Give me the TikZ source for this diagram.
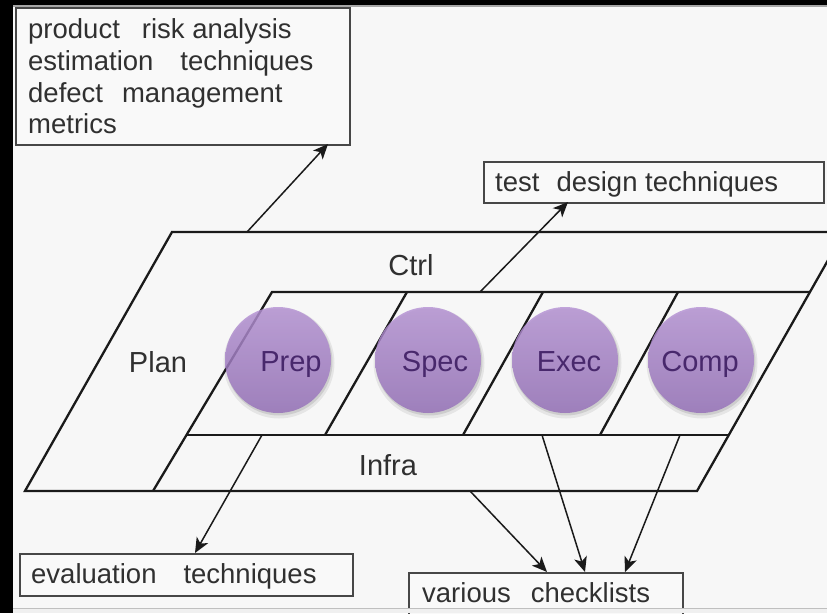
\documentclass[tikz,border=0pt]{standalone}
\usepackage{fontspec}
\setmainfont{Liberation Sans}
\usetikzlibrary{arrows.meta}
\definecolor{bgc}{HTML}{F7F7F7}
\definecolor{boxfill}{HTML}{F9F9F9}
\definecolor{boxline}{HTML}{474747}
\definecolor{lnc}{HTML}{1A1A1A}
\definecolor{txt}{HTML}{303030}
\definecolor{ctop}{HTML}{B794D6}
\definecolor{cbot}{HTML}{946FB8}
\definecolor{ctxt}{HTML}{48286C}
\begin{document}
\begin{tikzpicture}[x=1pt,y=-1pt,
  ln/.style={draw=lnc, line width=2.3pt, line join=miter},
  arr/.style={draw=lnc, line width=1.5pt, -{Stealth[length=15pt,width=13pt,inset=4pt]}},
  box/.style={draw=boxline, fill=boxfill, line width=1.8pt, inner sep=0pt, anchor=north west},
  btxt/.style={font=\fontsize{27.5}{32}\selectfont, text=txt, inner sep=0pt, anchor=base west},
  lbl/.style={font=\fontsize{29}{34}\selectfont, text=txt, inner sep=0pt, anchor=base},
  ball/.style={circle, minimum size=106pt, inner sep=0pt, top color=ctop, bottom color=cbot, fill opacity=0.82, draw=none},
  btext/.style={font=\fontsize{29}{34}\selectfont, text=ctxt, inner sep=0pt, anchor=base}
]
\useasboundingbox (0,0) rectangle (827,613);
\clip (0,0) rectangle (827,613);
\fill[bgc] (0,0) rectangle (827,613);
\fill[black] (0,0) rectangle (13,613);
\fill[black] (0,0) rectangle (827,5);
\fill[black!35] (13,5) rectangle (827,7);

% frame coordinates
\coordinate (oBL) at (25,491);
\coordinate (oTL) at (172,232);
\coordinate (oTR) at (844,232);
\coordinate (oBR) at (697,491);
\coordinate (pB) at (153,491);
\coordinate (pT) at (272,292);
\coordinate (cR) at (810,292);
\coordinate (iL) at (187,435);
\coordinate (iR) at (729,435);
\coordinate (d1B) at (325,435);
\coordinate (d1T) at (407,292);
\coordinate (d2B) at (463,435);
\coordinate (d2T) at (543,292);
\coordinate (d3B) at (600,435);
\coordinate (d3T) at (678,292);

\draw[ln] (oBL) -- (oTL) -- (oTR) -- (oBR) -- cycle;
\draw[ln] (pB) -- (pT) -- (cR);
\draw[ln] (iL) -- (iR);
\draw[ln] (d1B) -- (d1T);
\draw[ln] (d2B) -- (d2T);
\draw[ln] (d3B) -- (d3T);

% boxes
\node[box, minimum width=334pt, minimum height=137pt] (b1) at (15,7) {};
\node[box, minimum width=340pt, minimum height=41pt] (b2) at (483,161) {};
\node[box, minimum width=333pt, minimum height=42pt] (b3) at (19,553) {};
\node[box, minimum width=274pt, minimum height=70pt] (b4) at (408,572) {};

\node[btxt] (t1) at (28,38) {product\hspace{22pt}risk analysis};
\node[btxt] (t2) at (28,70) {estimation\hspace{27pt}techniques};
\node[btxt] (t3) at (28,102) {defect\hspace{19pt}management};
\node[btxt] (t4) at (28,133) {metrics};
\node[btxt] (t5) at (495,191) {test\hspace{17pt}design techniques};
\node[btxt] (t6) at (31,583) {evaluation\hspace{27pt}techniques};
\node[btxt] (t7) at (422,602) {various\hspace{20pt}checklists};

% arrows
\coordinate (a1s) at (247,232); \coordinate (a1e) at (328,144);
\coordinate (a2s) at (480,292); \coordinate (a2e) at (568,202);
\coordinate (a3s) at (262,435); \coordinate (a3e) at (195,553);
\coordinate (a4s) at (470,491); \coordinate (a4e) at (547,572);
\coordinate (a5s) at (542,435); \coordinate (a5e) at (585,572);
\coordinate (a6s) at (680,435); \coordinate (a6e) at (625,572);
\draw[arr] (a1s) -- (a1e);
\draw[arr] (a2s) -- (a2e);
\draw[arr] (a3s) -- (a3e);
\draw[arr] (a4s) -- (a4e);
\draw[arr] (a5s) -- (a5e);
\draw[arr] (a6s) -- (a6e);

% circles
\foreach \cx/\nm in {278/prep,428/spec,565/exec,701/comp}{
  \fill[black, opacity=0.07] (\cx+1,363) circle (55.5);
  \fill[black, opacity=0.10] (\cx+1,362) circle (53.5);
  \node[ball] (\nm) at (\cx,360) {};
}
\node[btext] (prepT) at (291,371) {Prep};
\node[btext] (specT) at (435,371) {Spec};
\node[btext] (execT) at (569,371) {Exec};
\node[btext] (compT) at (700,371) {Comp};

% labels
\node[lbl] (plan) at (158,372) {Plan};
\node[lbl] (ctrl) at (411,275) {Ctrl};
\node[lbl] (infra) at (388,475) {Infra};

% bottom edge
\fill[black!6] (13,609) rectangle (827,613);
\draw[black!25, line width=1.5pt] (13,608.5) -- (827,608.5);
\end{tikzpicture}
\end{document}
